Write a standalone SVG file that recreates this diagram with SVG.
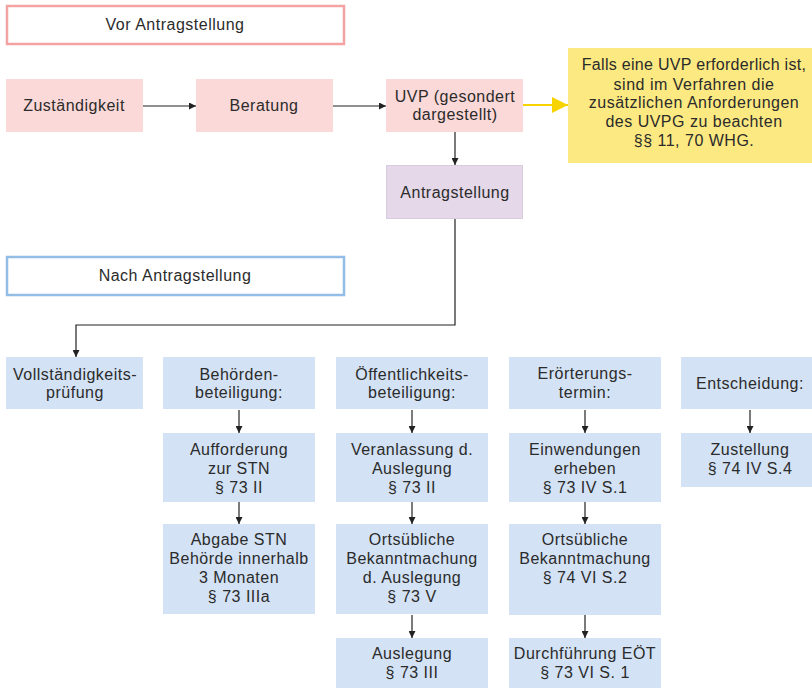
<svg xmlns="http://www.w3.org/2000/svg" width="812" height="688" viewBox="0 0 812 688">
<defs>
<marker id="ah" viewBox="0 0 10 10" refX="10" refY="5" markerWidth="7" markerHeight="7" markerUnits="userSpaceOnUse" orient="auto"><path d="M0,0 L10,5 L0,10 z" fill="#222"/></marker>
<marker id="ahy" viewBox="0 0 10 10" refX="10" refY="5" markerWidth="16" markerHeight="16" markerUnits="userSpaceOnUse" orient="auto"><path d="M0,0 L10,5 L0,10 z" fill="#f7d300"/></marker>
<style>
text{font-family:"Liberation Sans",Arial,sans-serif;font-size:16px;fill:#2b2b2b;text-anchor:middle;letter-spacing:0.5px}
.pink{fill:#fbd9d8}
.blue{fill:#d3e2f4}
.lila{fill:#e4d8e9;stroke:#d9cbe0;stroke-width:1}
.yel{fill:#fce981}
.c{fill:none;stroke:#222;stroke-width:1.2;marker-end:url(#ah)}
</style>
</defs>
<rect width="812" height="688" fill="#fff"/>
<g id="vor"><rect x="7" y="6" width="337" height="38" fill="#fff" stroke="#f4a3a3" stroke-width="2.5"/><text x="175" y="30">Vor Antragstellung</text></g>
<g id="nach"><rect x="7" y="257" width="337" height="38" fill="#fff" stroke="#93bde6" stroke-width="2.5"/><text x="175" y="281">Nach Antragstellung</text></g>
<g id="zust"><rect class="pink" x="6" y="79" width="137" height="53"/><text x="74" y="111">Zuständigkeit</text></g>
<g id="berat"><rect class="pink" x="196" y="79" width="137" height="53"/><text x="264" y="111">Beratung</text></g>
<g id="uvp"><rect class="pink" x="386" y="79" width="137" height="53"/><text x="455" y="102">UVP (gesondert</text><text x="455" y="120">dargestellt)</text></g>
<g id="hinweis"><rect class="yel" x="568" y="48" width="244" height="115"/><text x="694" y="70" style="letter-spacing:0.3px">Falls eine UVP erforderlich ist,</text><text x="694" y="90">sind im Verfahren die</text><text x="694" y="108">zusätzlichen Anforderungen</text><text x="694" y="127">des UVPG zu beachten</text><text x="694" y="146">§§ 11, 70 WHG.</text></g>
<g id="antrag"><rect class="lila" x="386.5" y="165.5" width="136" height="53"/><text x="455" y="198">Antragstellung</text></g>
<g id="voll"><rect class="blue" x="6" y="357" width="137" height="52"/><text x="75" y="380">Vollständigkeits-</text><text x="75" y="398">prüfung</text></g>
<g id="beh"><rect class="blue" x="163" y="357" width="152" height="52"/><text x="239" y="380">Behörden-</text><text x="239" y="398">beteiligung:</text></g>
<g id="oeff"><rect class="blue" x="336" y="357" width="152" height="52"/><text x="412" y="380">Öffentlichkeits-</text><text x="412" y="398">beteiligung:</text></g>
<g id="eroe"><rect class="blue" x="509" y="357" width="152" height="52"/><text x="585" y="379">Erörterungs-</text><text x="585" y="398">termin:</text></g>
<g id="ents"><rect class="blue" x="681" y="357" width="140" height="52"/><text x="750" y="389">Entscheidung:</text></g>
<g id="auff"><rect class="blue" x="163" y="433" width="152" height="69"/><text x="239" y="455">Aufforderung</text><text x="239" y="474">zur STN</text><text x="239" y="493">§ 73 II</text></g>
<g id="veran"><rect class="blue" x="336" y="433" width="152" height="69"/><text x="412" y="455">Veranlassung d.</text><text x="412" y="474">Auslegung</text><text x="412" y="493">§ 73 II</text></g>
<g id="einw"><rect class="blue" x="509" y="433" width="152" height="69"/><text x="585" y="455">Einwendungen</text><text x="585" y="474">erheben</text><text x="585" y="493">§ 73 IV S.1</text></g>
<g id="zustell"><rect class="blue" x="681" y="433" width="140" height="54"/><text x="750" y="455">Zustellung</text><text x="750" y="474">§ 74 IV S.4</text></g>
<g id="abgabe"><rect class="blue" x="163" y="524" width="152" height="90"/><text x="239" y="545">Abgabe STN</text><text x="239" y="564">Behörde innerhalb</text><text x="239" y="583">3 Monaten</text><text x="239" y="602">§ 73 IIIa</text></g>
<g id="ortsoeff"><rect class="blue" x="336" y="524" width="152" height="90"/><text x="412" y="545">Ortsübliche</text><text x="412" y="564">Bekanntmachung</text><text x="412" y="583">d. Auslegung</text><text x="412" y="602">§ 73 V</text></g>
<g id="ortseroe"><rect class="blue" x="509" y="524" width="152" height="91"/><text x="585" y="545">Ortsübliche</text><text x="585" y="564">Bekanntmachung</text><text x="585" y="583">§ 74 VI S.2</text></g>
<g id="ausl"><rect class="blue" x="336" y="638" width="152" height="50"/><text x="412" y="659">Auslegung</text><text x="412" y="678">§ 73 III</text></g>
<g id="durch"><rect class="blue" x="509" y="638" width="152" height="50"/><text x="585" y="659">Durchführung EÖT</text><text x="585" y="678">§ 73 VI S. 1</text></g>
<g id="connectors">
<path class="c" d="M143,106 H196"/>
<path class="c" d="M333,106 H386"/>
<path d="M523,105 H568" fill="none" stroke="#f7d300" stroke-width="1.8" marker-end="url(#ahy)"/>
<path class="c" d="M455,132 V165"/>
<path class="c" d="M455,219 V325 H76 V357"/>
<path class="c" d="M239,410 V433"/>
<path class="c" d="M412,410 V433"/>
<path class="c" d="M585,410 V433"/>
<path class="c" d="M750,410 V433"/>
<path class="c" d="M239,502 V524"/>
<path class="c" d="M412,502 V524"/>
<path class="c" d="M585,502 V524"/>
<path class="c" d="M412,615 V638"/>
<path class="c" d="M585,615 V638"/>
</g>
</svg>
